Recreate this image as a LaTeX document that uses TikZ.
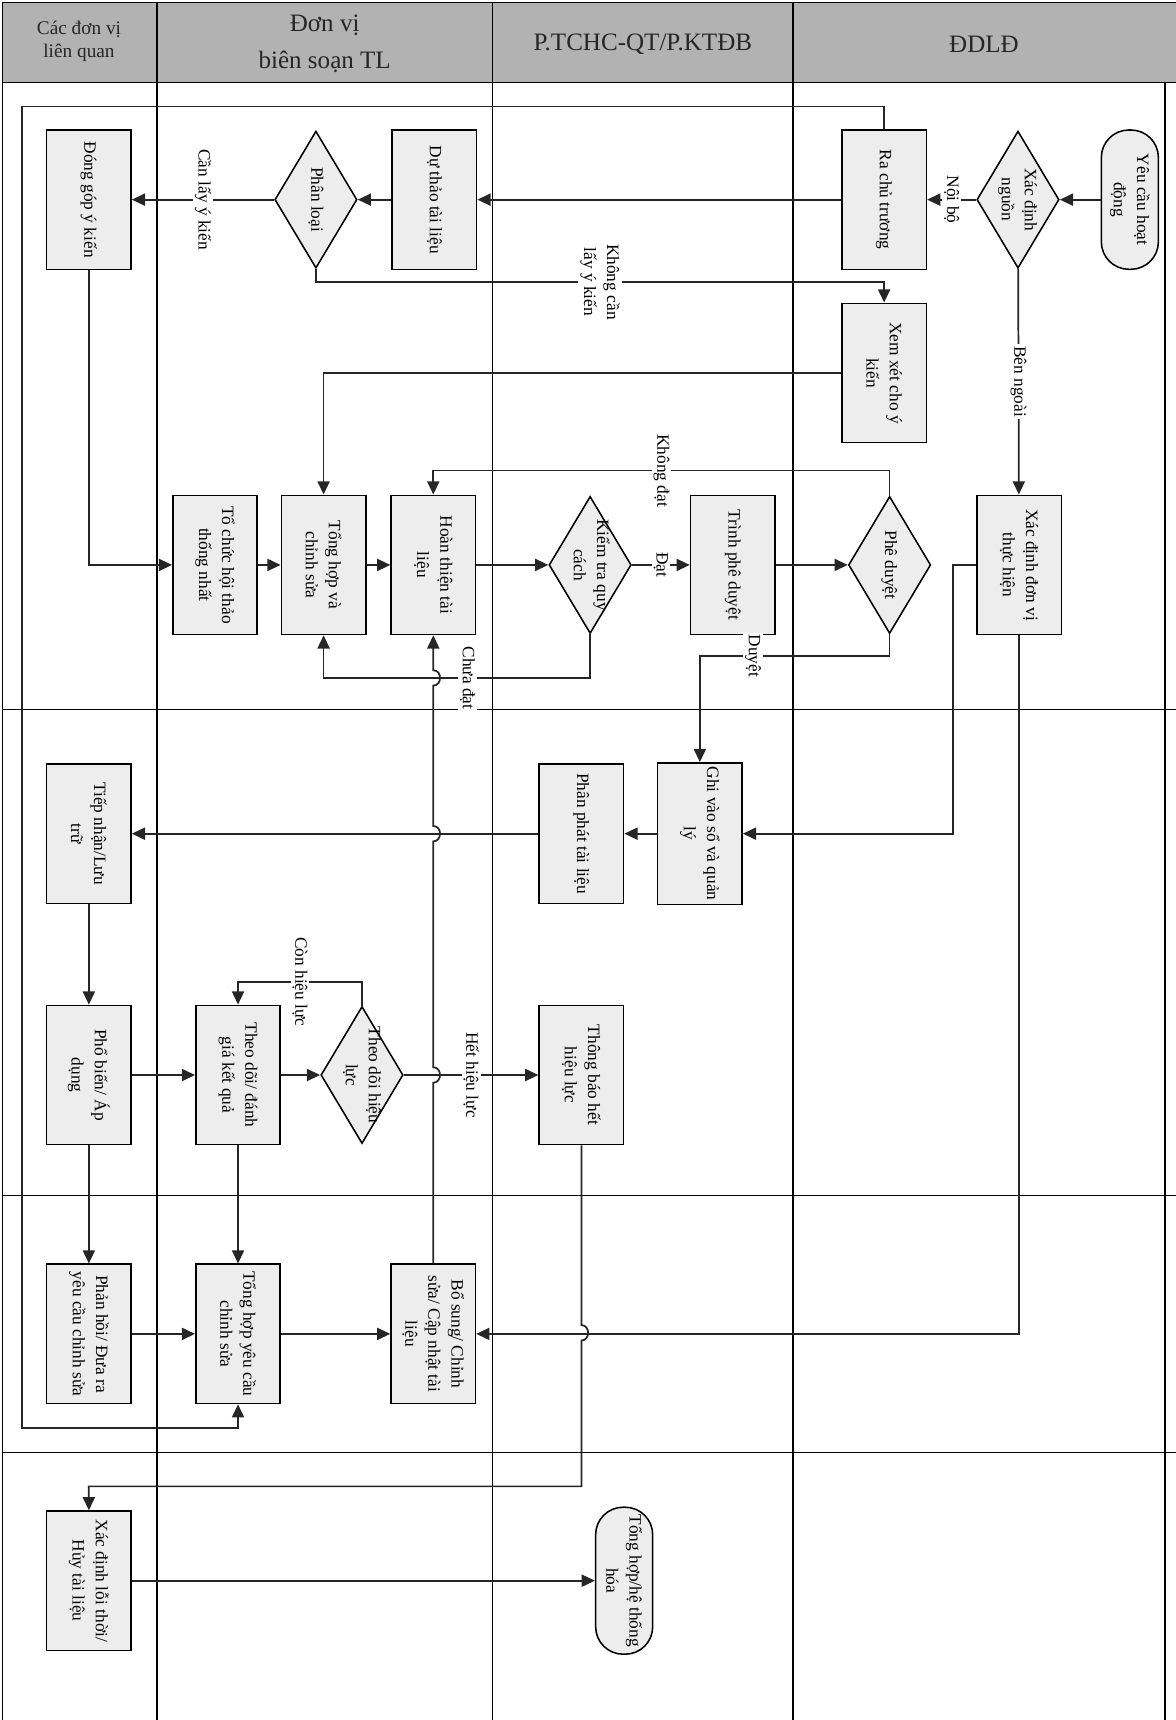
\documentclass[tikz,border=0pt]{standalone}
\usepackage{fontspec}
\setmainfont{Liberation Serif}
\usetikzlibrary{arrows.meta, shapes.geometric}

\newcommand{\dtext}[1]{\makebox[0pt]{\begin{tabular}{@{}c@{}}#1\end{tabular}}}

\begin{document}
\begin{tikzpicture}
  [x=0.02cm, y=-0.02cm, >={Triangle[length=2.4mm, width=2.2mm]},
   font=\fontsize{9}{12}\selectfont,
   process/.style={rectangle, draw, rotate=-90, align=center, fill=black!7, line width=0.8pt, minimum width=2.54cm, minimum height=1.54cm, inner sep=2pt},
   decision/.style={diamond, draw, rotate=-90, fill=black!7, line width=0.8pt, minimum width=2.5cm, minimum height=1.5cm, inner sep=0pt},
   terminal/.style={rectangle, rounded corners=0.5cm, draw, rotate=-90, align=center, fill=black!7, line width=0.8pt, minimum width=2.54cm, minimum height=1.04cm},
   lbl/.style={fill=white, rotate=-90, inner sep=1pt, align=center},
   head/.style={align=center, text=black!85},
   lane/.style={line width=0.7pt},
   flow/.style={->, line width=0.9pt, draw=black!85},
   hop/.style={out=0, in=0, looseness=1.5}]

  \useasboundingbox (0,0) rectangle (1072,1568);

  % Lanes
  \fill[black!30] (2,2) rectangle (1072,75);
  \foreach \y in {2,75,647,1090,1324}
    \draw[lane] (2,\y) -- (1072,\y);
  \foreach \x in {2,143,449,723}
    \draw[lane] (\x,2) -- (\x,1568);
  \draw[lane] (1062,75) -- (1062,1568);

  % Header
  \node[head, font=\fontsize{10}{12}\selectfont] (hlienquan) at (72,38) {Các đơn vị\\liên quan};
  \node[head, font=\fontsize{13}{19}\selectfont] (hbiensoan) at (296,40) {Đơn vị\\biên soạn TL};
  \node[head, font=\fontsize{13}{16}\selectfont] (htchc) at (586,40) {P.TCHC-QT/P.KTĐB};
  \node[head, font=\fontsize{13}{16}\selectfont] (hddld) at (897,40) {ĐDLĐ};

  % Nodes
  \node[terminal] (yeucau) at (1030,182) {Yêu cầu hoạt\\động};
  \node[decision] (nguon) at (928,182) {\dtext{Xác định\\nguồn}};
  \node[process] (chutruong) at (806,182) {Ra chủ trương};
  \node[process] (duthao) at (396,182) {Dự thảo tài liệu};
  \node[decision] (phanloai) at (288,182) {\dtext{Phân loại}};
  \node[process] (donggop) at (81,182) {Đóng góp ý kiến};
  \node[process] (xemxet) at (806,340) {Xem xét cho ý\\kiến};
  \node[process] (donvi) at (929,515) {Xác định đơn vị\\thực hiện};
  \node[process] (hoithao) at (196,515) {Tổ chức hội thảo\\thống nhất};
  \node[process] (tonghop) at (295,515) {Tổng hợp và\\chỉnh sửa};
  \node[process] (hoanthien) at (395,515) {Hoàn thiện tài\\liệu};
  \node[decision] (kiemtra) at (538,515) {\dtext{Kiểm tra quy\\cách}};
  \node[process] (trinh) at (668,515) {Trình phê duyệt};
  \node[decision] (pheduyet) at (811,515) {\dtext{Phê duyệt}};
  \node[process] (ghiso) at (638,760) {Ghi vào sổ và quản\\lý};
  \node[process] (phanphat) at (530,760) {Phân phát tài liệu};
  \node[process] (tiepnhan) at (81,760) {Tiếp nhận/Lưu\\trữ};
  \node[process] (phobien) at (81,980) {Phổ biến/ Áp\\dụng};
  \node[process] (theodoi) at (217,980) {Theo dõi/ đánh\\giá kết quả};
  \node[decision] (hieuluc) at (330,980) {\dtext{Theo dõi hiệu\\lực}};
  \node[process] (thongbao) at (530,980) {Thông báo hết\\hiệu lực};
  \node[process] (phanhoi) at (81,1216) {Phản hồi/ Đưa ra\\yêu cầu chỉnh sửa};
  \node[process] (tonghopyc) at (217,1216) {Tổng hợp yêu cầu\\chỉnh sửa};
  \node[process] (bosung) at (395,1216) {Bổ sung/ Chỉnh\\sửa/ Cập nhật tài\\liệu};
  \node[process] (loithoi) at (81,1441) {Xác định lỗi thời/\\Hủy tài liệu};
  \node[terminal, minimum width=2.68cm] (hethong) at (569,1441) {Tổng hợp/hệ thống\\hóa};

  % Arrows
  \draw[flow] (yeucau) -- (nguon);
  \draw[flow] (nguon) -- node[lbl]{Nội bộ} (chutruong);
  \draw[flow] (chutruong) -- (duthao);
  \draw[flow] (duthao) -- (phanloai);
  \draw[flow] (phanloai) -- node[lbl]{Cần lấy ý kiến} (donggop);
  \draw[flow] (phanloai) -- ++(0,75) -| node[lbl, pos=0.25]{Không cần\\lấy ý kiến} (xemxet);
  \draw[flow] (xemxet) -| (tonghop);
  \draw[flow] (nguon) -- node[lbl]{Bên ngoài} (donvi);
  \draw[flow] (donggop) |- (hoithao);
  \draw[flow] (hoithao) -- (tonghop);
  \draw[flow] (tonghop) -- (hoanthien);
  \draw[flow] (hoanthien) -- (kiemtra);
  \draw[flow] (kiemtra) -- node[lbl]{Đạt} (trinh);
  \draw[flow] (trinh) -- (pheduyet);
  \draw[flow] (pheduyet) -- ++(0,-86) -| node[lbl, pos=0.25]{Không đạt} (hoanthien);
  \draw[flow] (pheduyet) -- ++(0,83) -| node[lbl, pos=0.36]{Duyệt} (ghiso);
  \draw[flow] (kiemtra) -- ++(0,103) -| node[lbl, pos=0.23]{Chưa đạt} (tonghop);
  \draw[flow] (donvi) -- ++(-60,0) |- (ghiso);
  \draw[flow] (donvi) |- (bosung);
  \draw[flow] (ghiso) -- (phanphat);
  \draw[flow] (phanphat) -- (tiepnhan);
  \draw[flow] (tiepnhan) -- (phobien);
  \draw[flow] (phobien) -- (theodoi);
  \draw[flow] (theodoi) -- (hieuluc);
  \draw[flow] (hieuluc) -- ++(0,-85) -| node[lbl, pos=0.25]{Còn hiệu lực} (theodoi);
  \draw[flow] (hieuluc) -- node[lbl]{Hết hiệu lực} (thongbao);
  \draw[flow] (thongbao) -- ++(0,228) to[hop] ++(0,14) -- ++(0,133) -| (loithoi);
  \draw[flow] (phobien) -- (phanhoi);
  \draw[flow] (theodoi) -- (tonghopyc);
  \draw[flow] (phanhoi) -- (tonghopyc);
  \draw[flow] (tonghopyc) -- (bosung);
  \draw[flow] (bosung) -- ++(0,-229) to[hop] ++(0,-14) -- ++(0,-206) to[hop] ++(0,-14) -- ++(0,-128) to[hop] ++(0,-14) -- (hoanthien);
  \draw[flow] (chutruong) -- ++(0,-85) -| ++(-786,1205) -| (tonghopyc);
  \draw[flow] (loithoi) -- (hethong);
\end{tikzpicture}
\end{document}
